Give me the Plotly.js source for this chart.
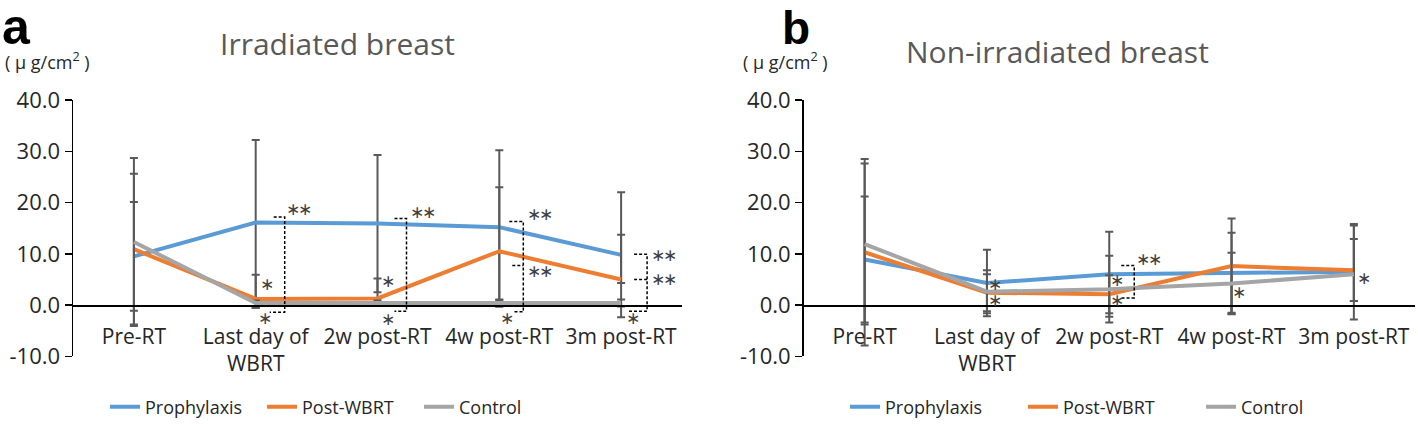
<!DOCTYPE html>
<html>
<head>
<meta charset="utf-8">
<script src="https://cdn.plot.ly/plotly-3.0.1.min.js"></script>
<style>html,body{margin:0;padding:0;background:#fff;}#chart{width:1418px;height:426px;}</style>
</head>
<body>
<div id="chart"></div>
<script>
// ---------- data ----------
const categories = ['Pre-RT', 'Last day of<br>WBRT', '2w post-RT', '4w post-RT', '3m post-RT'];
const seriesNames = ['Prophylaxis', 'Post-WBRT', 'Control'];

// Panel a: Irradiated breast
const aProph = [9.5, 16.1, 15.9, 15.2, 9.8];
const aProphPlus = [10.6, 16.1, 13.4, 15.0, 12.2];
const aProphMinus = [10.6, 16.6, 13.4, 14.1, 12.2];
const aPost = [10.9, 1.2, 1.3, 10.5, 5.0];
const aPostPlus = [14.7, 4.7, 3.9, 12.5, 8.7];
const aPostMinus = [14.7, 0, 0, 10.8, 0.7];
const aCtrl = [12.3, 0.4, 0.4, 0.4, 0.4];
const aCtrlPlus = [16.4, 0.5, 0.5, 0.6, 0.7];
const aCtrlMinus = [16.4, 0.9, 0.6, 0.7, 0.7];

// Panel b: Non-irradiated breast
const bProph = [8.9, 4.3, 6.0, 6.3, 6.5];
const bProphPlus = [12.3, 6.5, 8.3, 7.8, 9.3];
const bProphMinus = [12.3, 6.5, 8.3, 7.8, 9.3];
const bPost = [10.3, 2.4, 2.1, 7.6, 6.8];
const bPostPlus = [18.2, 3.6, 3.7, 9.3, 8.7];
const bPostMinus = [18.2, 3.6, 3.7, 9.3, 6.0];
const bCtrl = [11.9, 2.6, 3.1, 4.2, 6.0];
const bCtrlPlus = [15.7, 4.2, 6.5, 6.0, 6.9];
const bCtrlMinus = [15.7, 4.2, 6.5, 6.0, 5.2];

const yTicks = [-10, 0, 10, 20, 30, 40];
const titleA = 'Irradiated breast';
const titleB = 'Non-irradiated breast';
const unitText = '( μ g/cm<sup>2</sup> )';

// significance marks: [category index, y value, pixel offset, count of asterisks]
const aStars = [
  [1, 18.7, 43, 2], [1, 4.2, 11, 1], [1, -2.5, 9, 1],
  [2, 18.2, 45, 2], [2, 4.6, 10, 1], [2, -2.7, 10, 1],
  [3, 17.7, 41, 2], [3, 6.6, 41, 2], [3, -2.5, 8, 1],
  [4, 9.8, 43, 2], [4, 5.1, 43, 2], [4, -2.5, 12, 1]
];
const bStars = [
  [1, 4.2, 8, 1], [1, 1.0, 8, 1],
  [2, 9.0, 40, 2], [2, 4.8, 8, 1], [2, 1.0, 8, 1],
  [3, 2.6, 7, 1],
  [4, 5.2, 10, 1]
];
// brackets: [category index, yTop, yBottom, topStart px, bottomStart px, vertical px, [[midY, midStart px]...]]
const aBrackets = [
  [1, 17.2, -1.4, 18, 14, 29, []],
  [2, 16.9, -1.2, 17, 17, 29, []],
  [3, 16.3, -1.3, 10, 14, 24, [[7.7, 13]]],
  [4, 9.9, -1.2, 13, 6, 26, [[5.0, 13]]]
];
const bBrackets = [
  [2, 7.7, 1.4, 12, 12, 25, []]
];

// ---------- geometry ----------
const W = 1418, H = 426;
const yDom = [1 - 358 / H, 1 - 100.5 / H];
const yRange = [-10, 40];
const zeroPos = yDom[0] + (0 - yRange[0]) / (yRange[1] - yRange[0]) * (yDom[1] - yDom[0]);
const colors = ['#5B9BD5', '#ED7D31', '#A5A5A5'];
const errColor = '#595959';

function mk(y, plus, minus, idx, xa, ya, legend) {
  return {
    x: [0, 1, 2, 3, 4].map(i => categories[i]), y: y, name: seriesNames[idx],
    type: 'scatter', mode: 'lines', xaxis: xa, yaxis: ya, legend: legend,
    line: {color: colors[idx], width: 4},
    error_y: {type: 'data', symmetric: false, array: plus, arrayminus: minus,
      color: errColor, thickness: 2, width: 4}
  };
}
const traces = [
  mk(aProph, aProphPlus, aProphMinus, 0, 'x', 'y', 'legend'),
  mk(aPost, aPostPlus, aPostMinus, 1, 'x', 'y', 'legend'),
  mk(aCtrl, aCtrlPlus, aCtrlMinus, 2, 'x', 'y', 'legend'),
  mk(bProph, bProphPlus, bProphMinus, 0, 'x2', 'y2', 'legend2'),
  mk(bPost, bPostPlus, bPostMinus, 1, 'x2', 'y2', 'legend2'),
  mk(bCtrl, bCtrlPlus, bCtrlMinus, 2, 'x2', 'y2', 'legend2')
];

function xax(dom) {
  return {
    domain: dom, type: 'category', range: [-0.5, 4.5], anchor: 'free', position: zeroPos,
    showline: true, linecolor: '#000', linewidth: 1.5, showgrid: false, zeroline: false,
    ticks: '', ticklabelstandoff: 12,
    tickfont: {family: 'Open Sans', size: 21, color: '#262626'}, fixedrange: true
  };
}
function yax(anchor) {
  return {
    domain: yDom, range: yRange, tickvals: yTicks, ticktext: yTicks.map(v => v.toFixed(1)),
    showline: true, linecolor: '#000', linewidth: 1.5, showgrid: false, zeroline: false,
    ticks: 'outside', ticklen: 7, tickwidth: 1.5, tickcolor: '#000', anchor: anchor,
    tickfont: {family: 'Open Sans', size: 22, color: '#262626'}, fixedrange: true
  };
}

const starFont = {family: 'DejaVu Sans', size: 17, color: '#404040'};
const annotations = [];
function addStars(list, xr, yr) {
  list.forEach(s => {
    const offs = s[3] === 2 ? [-6, 6] : [0];
    offs.forEach(o => annotations.push({xref: xr, yref: yr, x: s[0], y: s[1], xshift: s[2] + o,
      text: '\u2217', showarrow: false, xanchor: 'center', yanchor: 'middle', font: starFont}));
  });
}
addStars(aStars, 'x', 'y');
addStars(bStars, 'x2', 'y2');

const shapes = [];
function addBrackets(list, xr, yr) {
  list.forEach(b => {
    let p = `M${b[3]},${b[1]} L${b[5]},${b[1]} L${b[5]},${b[2]} L${b[4]},${b[2]}`;
    b[6].forEach(m => { p += ` M${m[1]},${m[0]} L${b[5]},${m[0]}`; });
    shapes.push({type: 'path', xref: xr, yref: yr, xsizemode: 'pixel', xanchor: b[0], path: p,
      line: {color: '#000', width: 1.5, dash: '3px,2px'}});
  });
}
addBrackets(aBrackets, 'x', 'y');
addBrackets(bBrackets, 'x2', 'y2');

// titles and labels
const paperText = (text, xpx, ypx, font, xanchor) => ({xref: 'paper', yref: 'paper', x: xpx / W, y: 1 - ypx / H,
  text: text, showarrow: false, xanchor: xanchor || 'center', yanchor: 'middle', font: font});
annotations.push(paperText(titleA, 337, 44, {family: 'Open Sans', size: 30, color: '#595959'}));
annotations.push(paperText(titleB, 1057, 52, {family: 'Open Sans', size: 30, color: '#595959'}));
annotations.push(paperText(unitText, 3, 61, {family: 'Open Sans', size: 18, color: '#262626'}, 'left'));
annotations.push(paperText(unitText, 741, 61, {family: 'Open Sans', size: 18, color: '#262626'}, 'left'));
annotations.push(paperText('a', 0, 27, {family: 'Liberation Sans', size: 50, color: '#000', weight: 'bold'}, 'left'));
annotations.push(paperText('b', 780, 28, {family: 'Liberation Sans', size: 46, color: '#000', weight: 'bold'}, 'left'));

const legFont = {family: 'Open Sans', size: 18, color: '#262626'};
const layout = {
  width: W, height: H, margin: {l: 0, r: 0, t: 0, b: 0}, autosize: false,
  paper_bgcolor: '#fff', plot_bgcolor: '#fff',
  xaxis: xax([73 / W, 682 / W]), yaxis: yax('x'),
  xaxis2: xax([803.5 / W, 1415 / W]), yaxis2: yax('x2'),
  legend: {orientation: 'h', x: 105 / W, y: 1 - 409 / H, xanchor: 'left', yanchor: 'middle',
    font: legFont, entrywidth: 112, entrywidthmode: 'pixels', bgcolor: 'rgba(0,0,0,0)'},
  legend2: {orientation: 'h', x: 845 / W, y: 1 - 409 / H, xanchor: 'left', yanchor: 'middle',
    font: legFont, entrywidth: 133, entrywidthmode: 'pixels', bgcolor: 'rgba(0,0,0,0)'},
  annotations: annotations, shapes: shapes, showlegend: true
};
Plotly.newPlot('chart', traces, layout, {staticPlot: true, displayModeBar: false});
</script>
</body>
</html>
